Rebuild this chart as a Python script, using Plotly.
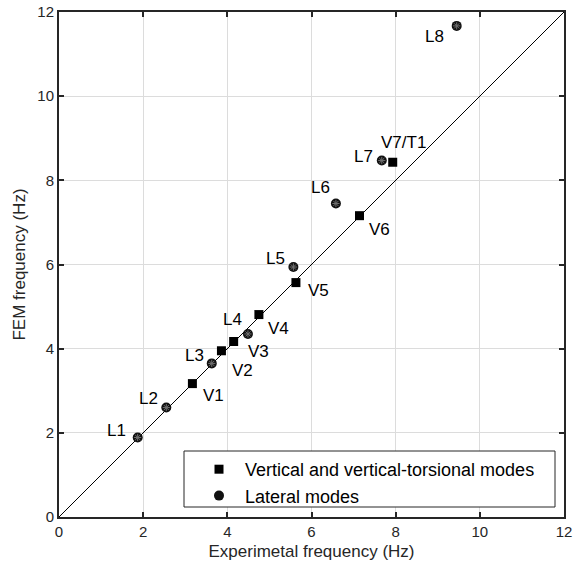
import plotly.graph_objects as go

# Vertical and vertical-torsional modes
v_labels = ["V1", "V2", "V3", "V4", "V5", "V6", "V7/T1"]
v_exp = [3.17, 3.86, 4.15, 4.75, 5.63, 7.14, 7.93]
v_fem = [3.17, 3.95, 4.17, 4.81, 5.57, 7.16, 8.43]

# Lateral modes
l_labels = ["L1", "L2", "L3", "L4", "L5", "L6", "L7", "L8"]
l_exp = [1.87, 2.55, 3.63, 4.49, 5.57, 6.58, 7.67, 9.45]
l_fem = [1.89, 2.60, 3.65, 4.35, 5.94, 7.45, 8.47, 11.67]

# reference line y = x
ref_x = [0, 12]
ref_y = [0, 12]

tick_vals = [0, 2, 4, 6, 8, 10, 12]

# label offsets in pixels (dx right, dy down)
v_off = [(21, 12), (21, 20), (25, 10), (20, 14), (23, 8), (20, 14), (11, -20)]
l_off = [(-21, -7), (-18, -9), (-17, -8), (-15, -14), (-18, -9), (-15, -16), (-18, -4), (-22, 11)]

FONT = "Liberation Sans, Arial, sans-serif"

fig = go.Figure()
fig.add_trace(go.Scatter(x=ref_x, y=ref_y, mode="lines",
                         line=dict(color="black", width=1), showlegend=False,
                         hoverinfo="skip"))
fig.add_trace(go.Scatter(x=v_exp, y=v_fem, mode="markers",
                         name="Vertical and vertical-torsional modes",
                         marker=dict(symbol="square", size=9, color="black")))
fig.add_trace(go.Scatter(x=l_exp, y=l_fem, mode="markers", name="Lateral modes",
                         marker=dict(symbol="circle", size=10, color="#111111")))
fig.add_trace(go.Scatter(x=l_exp, y=l_fem, mode="markers", showlegend=False,
                         hoverinfo="skip",
                         marker=dict(symbol="asterisk-open", size=6, color="#707070",
                                     line=dict(color="#707070", width=1))))

for lab, x, y, (dx, dy) in zip(v_labels + l_labels, v_exp + l_exp, v_fem + l_fem, v_off + l_off):
    fig.add_annotation(x=x, y=y, text=lab, showarrow=False, xshift=dx, yshift=-dy,
                       font=dict(family=FONT, size=17, color="black"))

axis_common = dict(range=[0, 12], tickvals=tick_vals, showgrid=True,
                   gridcolor="#dcdcdc", gridwidth=1, zeroline=False, automargin=False,
                   showline=True, linecolor="#262626", linewidth=2, mirror="ticks",
                   ticks="inside", ticklen=5, tickwidth=1.5, tickcolor="#262626",
                   tickfont=dict(family=FONT, size=15, color="#262626"))

# legend box (drawn as a shape so the symbols sit further inside)
fig.add_shape(type="rect", xref="paper", yref="paper",
              x0=(184 - 59) / 505, x1=(555 - 59) / 505,
              y0=(517 - 507) / 505, y1=(517 - 451) / 505,
              line=dict(color="#262626", width=1), fillcolor="white", layer="above")

fig.update_layout(
    width=573, height=576,
    margin=dict(l=59, r=9, t=12, b=59),
    plot_bgcolor="white", paper_bgcolor="white",
    xaxis=dict(**axis_common,
               title=dict(text="Experimetal frequency (Hz)", standoff=6,
                          font=dict(family=FONT, size=17, color="#262626"))),
    yaxis=dict(**axis_common,
               title=dict(text="FEM frequency (Hz)", standoff=7,
                          font=dict(family=FONT, size=17, color="#262626"))),
    legend=dict(x=(193 - 59) / 505, y=(517 - 451) / 505, xanchor="left", yanchor="top",
                borderwidth=0, bgcolor="rgba(0,0,0,0)",
                font=dict(family=FONT, size=18, color="black"),
                tracegroupgap=0, itemwidth=42),
    showlegend=True,
)

fig.write_html("out.html", config={"displayModeBar": False},
               post_script="document.body.style.margin='0';document.body.style.padding='0';")
